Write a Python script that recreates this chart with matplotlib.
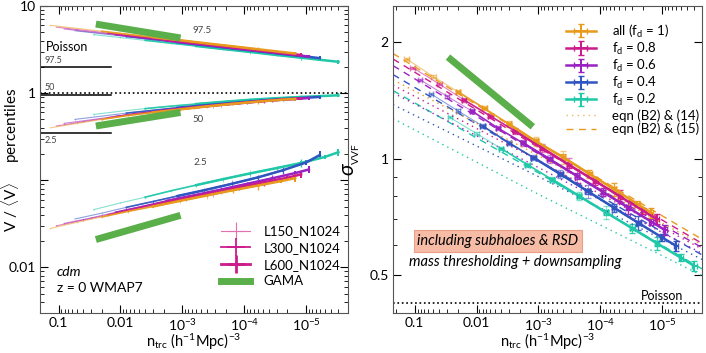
import matplotlib.pyplot as plt
from matplotlib.lines import Line2D
from matplotlib.ticker import LogLocator, NullFormatter

plt.rcParams['font.family'] = ['Lato', 'DejaVu Sans']
plt.rcParams['mathtext.fontset'] = 'custom'
plt.rcParams['mathtext.rm'] = 'Lato'
plt.rcParams['mathtext.it'] = 'Lato:italic'
plt.rcParams['mathtext.bf'] = 'Lato:bold'

# downsampling fractions and their colours
f_d = [1.0, 0.8, 0.6, 0.4, 0.2]
colors = ['#E89A1C', '#CC1C8C', '#9A22C0', '#2F55C0', '#20C8A8']
green = '#5BAF4A'

# tracer number densities for the full sample (f_d = 1); downsampled sets sit at f_d * n
n_base = [0.136, 0.05, 0.02, 0.0075, 0.003, 0.0011, 0.0004, 0.00015, 0.00006, 0.000025, 0.000015]
boxes = ['L150_N1024', 'L300_N1024', 'L600_N1024']
box_range = [(0, 7), (2, 9), (4, 11)]

# V/<V> percentiles (rows follow f_d)
p975 = [[6.00, 5.53, 5.13, 4.73, 4.39, 4.05, 3.72, 3.44, 3.19, 2.97, 2.85],
        [5.72, 5.27, 4.90, 4.52, 4.20, 3.87, 3.57, 3.29, 3.06, 2.85, 2.73],
        [5.45, 5.03, 4.68, 4.32, 4.02, 3.71, 3.42, 3.16, 2.94, 2.74, 2.63],
        [5.20, 4.80, 4.47, 4.13, 3.84, 3.55, 3.27, 3.03, 2.81, 2.63, 2.52],
        [4.70, 4.34, 4.04, 3.74, 3.48, 3.21, 2.97, 2.74, 2.55, 2.38, 2.29]]
p50 = [[0.40, 0.45, 0.50, 0.555, 0.60, 0.65, 0.705, 0.755, 0.80, 0.84, 0.86],
       [0.42, 0.47, 0.52, 0.575, 0.62, 0.67, 0.72, 0.77, 0.815, 0.85, 0.87],
       [0.45, 0.495, 0.54, 0.59, 0.635, 0.685, 0.735, 0.78, 0.825, 0.86, 0.88],
       [0.50, 0.545, 0.59, 0.635, 0.68, 0.725, 0.77, 0.815, 0.855, 0.885, 0.905],
       [0.57, 0.62, 0.665, 0.71, 0.75, 0.795, 0.84, 0.875, 0.905, 0.93, 0.945]]
p25 = [[0.028, 0.033, 0.038, 0.044, 0.050, 0.058, 0.067, 0.077, 0.087, 0.098, 0.106],
       [0.030, 0.035, 0.040, 0.047, 0.054, 0.062, 0.072, 0.083, 0.095, 0.107, 0.117],
       [0.032, 0.037, 0.043, 0.050, 0.058, 0.067, 0.078, 0.091, 0.105, 0.121, 0.133],
       [0.036, 0.042, 0.049, 0.057, 0.066, 0.077, 0.091, 0.108, 0.130, 0.160, 0.195],
       [0.046, 0.055, 0.064, 0.076, 0.088, 0.103, 0.120, 0.138, 0.158, 0.185, 0.210]]
err_p = [0.005, 0.006, 0.008, 0.012, 0.018, 0.03, 0.05]
err_p25 = [0.01, 0.015, 0.02, 0.03, 0.04, 0.06, 0.1]

# sigma_VVF (rows follow f_d)
sigma = [[1.81, 1.63, 1.49, 1.35, 1.23, 1.11, 1.01, 0.915, 0.835, 0.765, 0.726],
         [1.72, 1.56, 1.42, 1.29, 1.18, 1.068, 0.965, 0.876, 0.80, 0.734, 0.698],
         [1.60, 1.45, 1.33, 1.20, 1.10, 0.998, 0.904, 0.821, 0.750, 0.689, 0.655],
         [1.47, 1.33, 1.216, 1.10, 1.007, 0.913, 0.825, 0.748, 0.683, 0.627, 0.597],
         [1.28, 1.162, 1.063, 0.966, 0.884, 0.802, 0.727, 0.661, 0.605, 0.556, 0.529]]
err_sig = [[0.006, 0.008, 0.01, 0.012, 0.016, 0.025, 0.04],
           [0.005, 0.006, 0.008, 0.012, 0.016, 0.025, 0.04],
           [0.004, 0.005, 0.006, 0.01, 0.014, 0.02, 0.03]]

# model curves
n_model = [0.225, 1e-3, 2.25e-6]
sig_eq14 = [[1.60, 1.02, 0.60], [1.55, 0.99, 0.585], [1.48, 0.95, 0.57],
            [1.38, 0.90, 0.55], [1.27, 0.81, 0.50]]
sig_eq15 = [[1.87, 1.10, 0.62], [1.81, 1.07, 0.605], [1.74, 1.03, 0.59],
            [1.65, 0.99, 0.565], [1.50, 0.92, 0.52]]

# GAMA
gama_n = [0.025, 1.07e-3]
gama_p975 = [6.2, 4.3]
gama_p50 = [0.42, 0.60]
gama_p25 = [0.0209, 0.0396]
gama_sig_n = [0.029, 1.23e-3]
gama_sig = [1.83, 1.21]

# Poisson expectations
poisson_p = [2.0, 0.95, 0.35]
poisson_sig = 0.424

box_lw = [0.8, 1.2, 1.8]
box_alpha = [0.55, 0.9, 1.0]

xt = [0.1, 0.01, 1e-3, 1e-4, 1e-5]
xtl = ['0.1', '0.01', r'$10^{-3}$', r'$10^{-4}$', r'$10^{-5}$']
xlab = r'n$_{\rm trc}$ (h$^{-1}$Mpc)$^{-3}$'

fig = plt.figure(figsize=(7.06, 3.53), dpi=100)
axL = fig.add_axes([40/706, 40/353, 308/706, 307/353])
axR = fig.add_axes([393/706, 40/353, 309/706, 307/353])

# ---- left panel
for i in reversed(range(5)):
    nn = [f_d[i]*n for n in n_base]
    for b in range(3):
        a, e = box_range[b]
        for vals, ef in [(p975, err_p), (p50, err_p), (p25, err_p25)]:
            y = vals[i][a:e]
            axL.errorbar(nn[a:e], y, yerr=[v*f for v, f in zip(y, ef)],
                         color=colors[i], lw=box_lw[b], elinewidth=box_lw[b]*0.8,
                         alpha=box_alpha[b], capsize=0)
for gy in [gama_p975, gama_p50, gama_p25]:
    axL.plot(gama_n, gy, color=green, lw=5, solid_capstyle='butt', zorder=5)
axL.axhline(1, color='k', ls=':', lw=1.2)
for p in poisson_p:
    axL.plot([0.2, 0.0145], [p, p], color='k', lw=1.1)
axL.text(0.17, 2.08, '97.5', fontsize=6.5, color='#444444', va='bottom')
axL.text(0.17, 1.02, '50', fontsize=6.5, color='#444444', va='bottom')
axL.text(0.17, 0.32, '2.5', fontsize=6.5, color='#444444', va='top')
axL.text(0.02, 0.865, 'Poisson', transform=axL.transAxes, fontsize=9, va='center')
axL.text(4.8e-4, 5.3, '97.5', fontsize=7, color='#444444', ha='center', va='center')
axL.text(5.5e-4, 0.50, '50', fontsize=7, color='#444444', ha='center', va='center')
axL.text(5.2e-4, 0.16, '2.5', fontsize=7, color='#444444', ha='center', va='center')
axL.text(0.055, 0.134, 'cdm', style='italic', transform=axL.transAxes, fontsize=10, va='center')
axL.text(0.055, 0.081, 'z = 0 WMAP7', transform=axL.transAxes, fontsize=10, va='center')

hL = [Line2D([], [], color='#E070B0', lw=0.8, marker='+', ms=13, mew=0.8),
      Line2D([], [], color='#CC1C8C', lw=1.3, marker='+', ms=13, mew=1.3),
      Line2D([], [], color='#CC1C8C', lw=2.0, marker='+', ms=13, mew=2.0),
      Line2D([], [], color=green, lw=5)]
axL.legend(hL, boxes + ['GAMA'], loc='lower left', bbox_to_anchor=(0.55, 0.045),
           frameon=False, fontsize=9.5, handlelength=2.2, handletextpad=1.0,
           labelspacing=0.35)

axL.set_yscale('log')
axL.set_ylim(0.003, 10)
axL.set_yticks([0.01, 0.1, 1, 10], ['0.01', '', '1', '10'])
axL.set_ylabel(r'V / $\langle$V$\rangle$     percentiles', fontsize=11)
axL.yaxis.set_label_coords(-0.06, 0.5)

# ---- right panel
handles = []
for i in reversed(range(5)):
    nn = [f_d[i]*n for n in n_base]
    axR.plot(n_model, sig_eq14[i], color=colors[i], ls=(0, (1, 3)), lw=1.0)
    axR.plot(n_model, sig_eq15[i], color=colors[i], ls=(0, (5, 4)), lw=1.0)
    for b in range(3):
        a, e = box_range[b]
        y = sigma[i][a:e]
        x = nn[a:e]
        h = axR.errorbar(x, y, yerr=[v*f for v, f in zip(y, err_sig[b])],
                         xerr=[v*0.08 for v in x],
                         color=colors[i], lw=box_lw[b], elinewidth=box_lw[b]*0.8,
                         alpha=box_alpha[b], capsize=2)
        if b == 2:
            handles.insert(0, h)
axR.plot(gama_sig_n, gama_sig, color=green, lw=5, solid_capstyle='butt', zorder=5)
axR.axhline(poisson_sig, color='k', ls=':', lw=1.2)
axR.text(0.94, 0.056, 'Poisson', transform=axR.transAxes, fontsize=9, ha='right', va='center')
axR.text(0.34, 0.235, 'including subhaloes & RSD', transform=axR.transAxes,
         style='italic', fontsize=10.5, ha='center', va='center',
         bbox=dict(boxstyle='square,pad=0.25', fc='#F7BCA6', ec='#E8A088', lw=0.8))
axR.text(0.052, 0.166, 'mass thresholding + downsampling', transform=axR.transAxes,
         style='italic', fontsize=10.5, ha='left', va='center')

labs = ['all (f$_{\\rm d}$ = 1)'] + ['f$_{\\rm d}$ = %.1f' % f for f in f_d[1:]]
handles += [Line2D([], [], color=colors[0], ls=(0, (1, 3)), lw=1.0, alpha=0.7),
            Line2D([], [], color=colors[0], ls=(0, (5, 4)), lw=1.0)]
labs += ['eqn (B2) & (14)', 'eqn (B2) & (15)']
axR.legend(handles, labs, loc='upper left', bbox_to_anchor=(0.52, 0.985),
           frameon=False, fontsize=9.5, handlelength=2.3, handletextpad=1.2,
           labelspacing=0.08)

axR.set_yscale('log')
axR.set_ylim(0.40, 2.48)
axR.set_yticks([0.5, 1, 2], ['0.5', '1', '2'])
axR.set_ylabel(r'$\sigma_{_{\rm VVF}}$', fontsize=15)
axR.yaxis.set_label_coords(-0.1, 0.5)

for ax, xl in [(axL, (0.2, 2.1e-6)), (axR, (0.225, 2.25e-6))]:
    ax.set_xscale('log')
    ax.set_xlim(*xl)
    ax.set_xticks(xt, xtl)
    ax.xaxis.set_minor_locator(LogLocator(base=10, subs=range(2, 10), numticks=20))
    ax.xaxis.set_minor_formatter(NullFormatter())
    ax.yaxis.set_minor_locator(LogLocator(base=10, subs=range(2, 10), numticks=20))
    ax.yaxis.set_minor_formatter(NullFormatter())
    ax.tick_params(which='both', direction='in', top=True, right=True, labelsize=10)
    ax.tick_params(which='major', length=6, width=0.8, pad=3)
    ax.tick_params(which='minor', length=3, width=0.6)
    ax.set_xlabel(xlab, fontsize=10.5, labelpad=-1)
    for s in ax.spines.values():
        s.set_color('#555555')

fig.savefig('out.png', dpi=100)
